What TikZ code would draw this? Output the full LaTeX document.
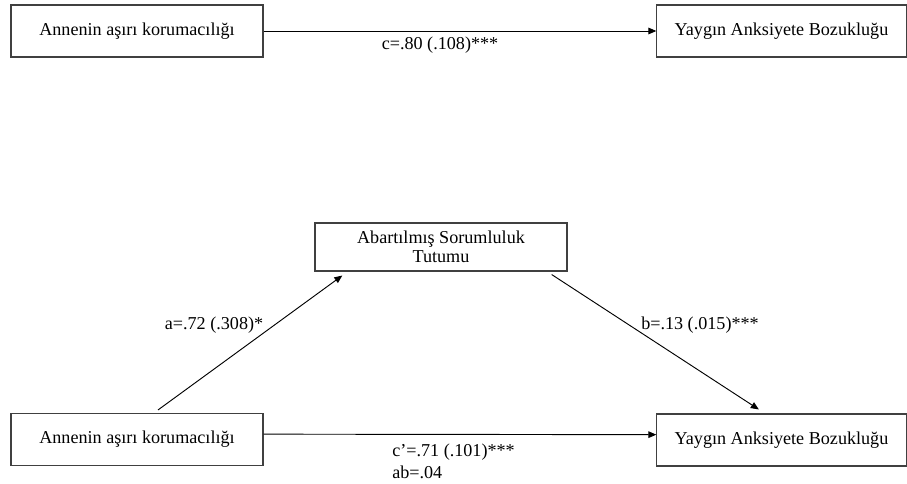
\documentclass[tikz,border=0pt]{standalone}
\usepackage{fontspec}
\setmainfont{Liberation Serif}
\usetikzlibrary{positioning, arrows.meta}

\begin{document}
\begin{tikzpicture}[x=0.75pt, y=-0.75pt, font=\fontsize{13.6}{14.5}\selectfont,
    box/.style={draw=black!75, line width=0.8pt, minimum height=39pt, inner sep=2pt},
    link/.style={draw, line width=0.7pt, -{Triangle[length=6pt, width=5pt]}}]
        \useasboundingbox (0,0) rectangle (907,484);
        % toplam etki
        \node[box, minimum width=189pt] (tl) at (137,31) {Annenin aşırı korumacılığı};
        \node[box, minimum width=187pt] (tr) at (781.5,31) {Yaygın Anksiyete Bozukluğu};
        \draw[link] (tl.east) -- (tr.west);
        \node (c) at (440,45) {c=.80 (.108)***};
        % aracı model
        \node[box, minimum width=189pt, minimum height=36pt, align=center] (mid) at (441,247) {Abartılmış Sorumluluk\\Tutumu};
        \node[box, minimum width=189pt] (bl) at (137,439.5) {Annenin aşırı korumacılığı};
        \node[box, minimum width=187pt] (br) at (781.5,440) {Yaygın Anksiyete Bozukluğu};
        \draw[link] ([xshift=15.75pt, yshift=2.25pt]bl.north) -- ([xshift=-74pt, yshift=-3pt]mid.south);
        \draw[link] ([xshift=83pt, yshift=-2.25pt]mid.south) -- ([xshift=-17pt, yshift=3pt]br.north);
        \draw[link] ([yshift=4pt]bl.east) -- ([yshift=4pt]br.west);
        \node (a) at (214,325) {a=.72 (.308)*};
        \node (b) at (700,325) {b=.13 (.015)***};
        \node[anchor=west, inner sep=0pt] (cp) at (392,452) {c’=.71 (.101)***};
        \node[anchor=west, inner sep=0pt] (ab) at (392,472) {ab=.04};
\end{tikzpicture}
\end{document}
